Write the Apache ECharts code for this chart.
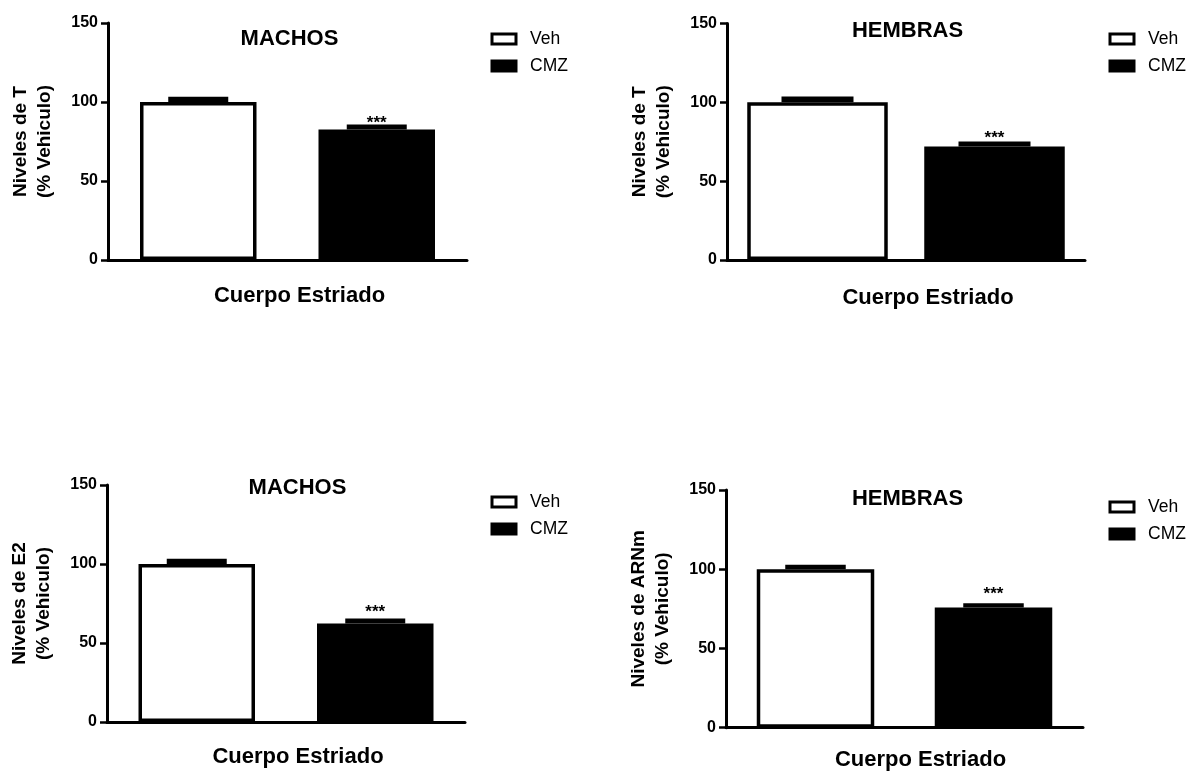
<!DOCTYPE html>
<html style="height: 100%">
<head>
	<meta charset="utf-8">
	<title></title>
	<script type="text/javascript" src="https://cdn.jsdelivr.net/npm/echarts@6/dist/echarts.min.js"></script>
</head>
<body style="height: 100%; margin: 0; background: #fff">
<div id="container" style="width: 1193px; height: 773px"></div>
<script type="text/javascript">
	// datos
	var categories = ['Cuerpo Estriado'];
	var groups = ['Veh', 'CMZ'];
	var panelTitles = ['MACHOS', 'HEMBRAS', 'MACHOS', 'HEMBRAS'];
	var yLabels = ['Niveles de T\n(% Vehiculo)', 'Niveles de T\n(% Vehiculo)', 'Niveles de E2\n(% Vehiculo)', 'Niveles de ARNm\n(% Vehiculo)'];
	var vehMean = [100, 100, 100, 100];
	var vehErr = [2.1, 2.4, 2.1, 1.6];
	var cmzMean = [82.6, 72.0, 62.3, 75.8];
	var cmzErr = [1.9, 1.9, 1.9, 1.4];
	var sigText = ['***', '***', '***', '***'];
	var sigPos = [89.9, 80.5, 72.5, 87.5];
	var yTicks = [0, 50, 100, 150];

	// posicion de cada panel
	var grids = [
		{left: 108, top: 23, width: 359, height: 237},
		{left: 727, top: 23.5, width: 358, height: 236.5},
		{left: 107, top: 485, width: 358, height: 237},
		{left: 726, top: 490, width: 357, height: 237.7}
	];
	var barW = [116.5, 140.5, 116.5, 117.5];
	var barGapPx = [62, 36.5, 62, 60.5];
	var titlePos = [[289.5, 28], [907.5, 20], [297.5, 476.5], [907.5, 487.5]];
	var legendPos = [[490.5, 30], [1108.5, 30], [490.5, 493], [1108.5, 498]];
	var catShift = [12, 22, 12, 16];
	var catMargin = [25, 27, 24, 21];

	var font = 'Arial, "Liberation Sans", sans-serif';

	var dom = document.getElementById('container');
	var myChart = echarts.init(dom);

	var option = {
		backgroundColor: '#fff',
		animation: false,
		textStyle: {fontFamily: font},
		title: [],
		legend: [],
		grid: [],
		xAxis: [],
		yAxis: [],
		series: []
	};

	// barra de error (SEM) dibujada como banda negra encima de cada barra
	function errorBars(p) {
		return function (params, api) {
			var side = params.dataIndex === 0 ? -1 : 1;
			var off = (barW[p] + barGapPx[p]) / 2;
			var base = api.coord([api.value(0), api.value(1)]);
			var top = api.coord([api.value(0), api.value(1) + api.value(2)]);
			var cx = base[0] + side * off;
			var half = (barW[p] + 3.5) / 4;
			var children = [{
				type: 'rect',
				shape: {x: cx - half, y: top[1] - 2, width: half * 2, height: base[1] - top[1] + 2},
				style: {fill: '#000'}
			}];
			if (params.dataIndex === 1) {
				var s = api.coord([api.value(0), sigPos[p]]);
				children.push({
					type: 'text',
					style: {
						text: sigText[p], x: cx, y: s[1] + 5,
						align: 'center', verticalAlign: 'middle',
						font: 'bold 17px ' + font, fill: '#000'
					}
				});
			}
			return {type: 'group', children: children};
		};
	}

	for (var i = 0; i < 4; i++) {
		option.title.push({
			text: panelTitles[i],
			left: titlePos[i][0],
			top: titlePos[i][1],
			textAlign: 'center',
			padding: 0,
			textStyle: {fontSize: 22, fontWeight: 'bold', color: '#000', fontFamily: font}
		});
		option.legend.push({
			data: groups,
			orient: 'vertical',
			left: legendPos[i][0],
			top: legendPos[i][1],
			padding: 0,
			itemWidth: 24,
			itemHeight: 10,
			itemGap: 9,
			icon: 'rect',
			selectedMode: false,
			itemStyle: {borderColor: '#000', borderWidth: 3},
			textStyle: {fontSize: 17.5, color: '#000', fontFamily: font, padding: [0, 0, 0, 9]}
		});
		option.grid.push({
			left: grids[i].left, top: grids[i].top,
			width: grids[i].width, height: grids[i].height
		});
		option.xAxis.push({
			type: 'category',
			gridIndex: i,
			data: categories,
			axisLine: {lineStyle: {color: '#000', width: 3}},
			axisTick: {show: false},
			axisLabel: {
				color: '#000', fontSize: 22, fontWeight: 'bold', fontFamily: font,
				margin: catMargin[i], padding: [0, 0, 0, 2 * catShift[i]]
			}
		});
		option.yAxis.push({
			type: 'value',
			gridIndex: i,
			min: yTicks[0],
			max: yTicks[yTicks.length - 1],
			interval: yTicks[1] - yTicks[0],
			splitLine: {show: false},
			axisLine: {show: true, lineStyle: {color: '#000', width: 3}},
			axisTick: {show: true, length: 7, lineStyle: {color: '#000', width: 2.5}},
			axisLabel: {color: '#000', fontSize: 16, fontWeight: 'bold', fontFamily: font, margin: 10},
			name: yLabels[i],
			nameLocation: 'middle',
			nameRotate: 90,
			nameGap: 51,
			nameTextStyle: {fontSize: 19, fontWeight: 'bold', color: '#000', lineHeight: 24, fontFamily: font}
		});
		option.series.push({
			type: 'bar',
			name: 'Veh',
			xAxisIndex: i, yAxisIndex: i,
			data: [vehMean[i]],
			barWidth: barW[i],
			barGap: (barGapPx[i] / barW[i] * 100) + '%',
			itemStyle: {color: '#fff', borderColor: '#000', borderWidth: 3.5},
			emphasis: {disabled: true}
		});
		option.series.push({
			type: 'bar',
			name: 'CMZ',
			xAxisIndex: i, yAxisIndex: i,
			data: [cmzMean[i]],
			barWidth: barW[i],
			barGap: (barGapPx[i] / barW[i] * 100) + '%',
			itemStyle: {color: '#000', borderColor: '#000', borderWidth: 3.5},
			emphasis: {disabled: true}
		});
		option.series.push({
			type: 'custom',
			name: 'err' + i,
			xAxisIndex: i, yAxisIndex: i,
			data: [[0, vehMean[i], vehErr[i]], [0, cmzMean[i], cmzErr[i]]],
			renderItem: errorBars(i),
			z: 10,
			silent: true
		});
	}

	myChart.setOption(option);
</script>
</body>
</html>
